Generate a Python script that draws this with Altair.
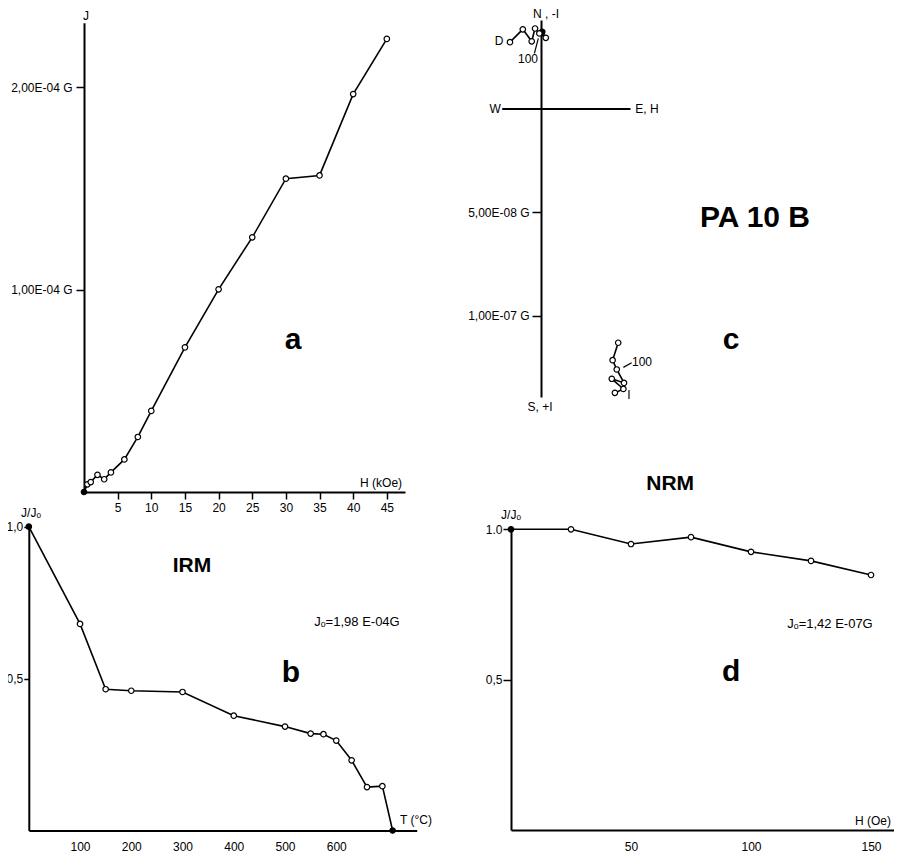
import altair as alt
import pandas as pd

# ---------------- data ----------------
# (a) IRM acquisition curve
a_H = [0, 0.5, 1, 2, 3, 4, 6, 8, 10, 15, 20, 25, 30, 35, 40, 45]          # kOe
a_J = [0, 0.038, 0.049, 0.085, 0.063, 0.097, 0.161, 0.272, 0.401,
       0.715, 1.002, 1.259, 1.549, 1.565, 1.967, 2.240]                    # x 1E-04 G
a_xticks = [5, 10, 15, 20, 25, 30, 35, 40, 45]
a_yticks = [1, 2]
a_ylabels = ["1,00E-04 G", "2,00E-04 G"]

# (b) thermal demagnetisation of IRM
b_T = [0, 100, 150, 200, 300, 400, 500, 550, 575, 600, 630, 660, 690, 710]
b_J = [1.0, 0.680, 0.465, 0.460, 0.456, 0.378, 0.342, 0.319, 0.317, 0.296,
       0.231, 0.143, 0.146, 0.0]
b_xticks = [100, 200, 300, 400, 500, 600]
b_yticks = [0.5, 1.0]
b_ylabels = ["0,5", "1,0"]

# (c) orthogonal (Zijderveld) projection, units of 1E-08 G
c_steps = [0, 25, 50, 75, 100, 125, 150]
c_hE = [0.06, 0.23, -0.08, -0.29, -0.45, -0.88, -1.50]
c_hN = [3.71, 3.42, 3.63, 3.87, 3.25, 3.83, 3.21]
c_vH = [3.57, 3.98, 3.42, 4.01, 3.66, 3.46, 3.73]
c_vZ = [13.73, 13.54, 13.05, 13.25, 12.60, 12.15, 11.31]
c_yticks = [5, 10]
c_ylabels = ["5,00E-08 G", "1,00E-07 G"]

# (d) AF demagnetisation of NRM
d_H = [0, 25, 50, 75, 100, 125, 150]
d_J = [1.0, 1.0, 0.951, 0.974, 0.925, 0.895, 0.848]
d_xticks = [50, 100, 150]
d_yticks = [0.5, 1.0]
d_ylabels = ["0,5", "1.0"]

# ---------------- layout / style ----------------
W, H = 886, 846
FONT = "Liberation Sans"
FS = 12


def lab_expr(vals, labels):
    e = "''"
    for v, l in reversed(list(zip(vals, labels))):
        e = f"datum.value == {v} ? '{l}' : ({e})"
    return e


def axis(orient, offset, values, labelExpr=None, tick=6, pad=3, domain=True,
         labels=True):
    kw = dict(orient=orient, offset=offset, values=values, title=None,
              grid=False, domainColor="black", domainWidth=2,
              tickColor="black", tickWidth=1.5, tickSize=tick,
              ticks=tick > 0, labelFont=FONT, labelFontSize=FS,
              labelColor="black", labelPadding=pad, labelFlush=False,
              labelOverlap=False, domain=domain, labels=labels)
    if labelExpr is not None:
        kw["labelExpr"] = labelExpr
    return alt.Axis(**kw)


def points_and_line(df, xs, ys, filled_col=None):
    base = alt.Chart(df).encode(x=xs, y=ys, order=alt.Order("i:Q"))
    pt = base.mark_point(shape="circle", size=30, strokeWidth=1.2,
                         opacity=1, color="black")
    if filled_col:
        pt = pt.encode(fill=alt.condition(f"datum.{filled_col}",
                                          alt.value("black"),
                                          alt.value("white")))
    else:
        pt = pt.encode(fill=alt.value("white"))
    return [base.mark_line(color="black", strokeWidth=1.6), pt]


def texts(specs, xs, ys):
    out = []
    for df_t, size, weight in specs:
        out.append(
            alt.Chart(df_t).mark_text(fontSize=size, fontWeight=weight,
                                      font=FONT, color="black",
                                      align="center", baseline="middle")
            .encode(x=xs, y=ys, text="t:N"))
    return out


def tdf(items):
    return pd.DataFrame({"t": [i[0] for i in items],
                         "x": [i[1] for i in items],
                         "y": [i[2] for i in items]})


def series(xv, yv, filled):
    return pd.DataFrame({"x": xv, "y": yv, "f": filled,
                         "i": list(range(len(xv)))})


# ---- panel a ----
dfa = series(a_H, a_J, [True] + [False] * (len(a_H) - 1))
xa = alt.X("x:Q", scale=alt.Scale(domain=[0, 47.7], range=[76, 397],
                                  nice=False, zero=False),
           axis=axis("bottom", -(H - 484), a_xticks, tick=7, pad=3))
ya = alt.Y("y:Q", scale=alt.Scale(domain=[0, 2.32], range=[484, 14.7],
                                  nice=False, zero=False),
           axis=axis("left", -76, a_yticks, lab_expr(a_yticks, a_ylabels),
                     tick=8, pad=4))
pa = alt.layer(*points_and_line(dfa, xa, ya, "f"), *texts([
    (tdf([("J", 0.3, 2.355), ("H (kOe)", 44.15, 0.044)]), FS, "normal"),
    (tdf([("a", 31.06, 0.751)]), 30, "bold"),
], xa, ya))

# ---- panel b ----
dfb = series(b_T, b_J, [True] + [False] * (len(b_T) - 2) + [True])
xb = alt.X("x:Q", scale=alt.Scale(domain=[0, 757], range=[20.8, 408.7],
                                  nice=False, zero=False),
           axis=axis("bottom", -(H - 822.5), b_xticks, tick=0, pad=11))
yb = alt.Y("y:Q", scale=alt.Scale(domain=[0, 1], range=[822.5, 518.7],
                                  nice=False, zero=False),
           axis=axis("left", -20.8, b_yticks, lab_expr(b_yticks, b_ylabels),
                     tick=5, pad=1))
pb = alt.layer(*points_and_line(dfb, xb, yb, "f"), *texts([
    (tdf([("J/Jₒ", 4.3, 1.045), ("T (°C)", 755.6, 0.035)]), FS, "normal"),
    (tdf([("Jₒ=1,98 E-04G", 640.4, 0.686)]), 13, "normal"),
    (tdf([("IRM", 318.5, 0.871)]), 21, "bold"),
    (tdf([("b", 511.7, 0.518)]), 30, "bold"),
], xb, yb))

# ---- panel d ----
dfd = series(d_H, d_J, [True] + [False] * (len(d_H) - 1))
xd = alt.X("x:Q", scale=alt.Scale(domain=[0, 160.7], range=[503, 888.7],
                                  nice=False, zero=False),
           axis=axis("bottom", -(H - 822), d_xticks, tick=0, pad=11))
yd = alt.Y("y:Q", scale=alt.Scale(domain=[0, 1], range=[822, 521.3],
                                  nice=False, zero=False),
           axis=axis("left", -503, d_yticks, lab_expr(d_yticks, d_ylabels),
                     tick=8, pad=1))
pd_ = alt.layer(*points_and_line(dfd, xd, yd, "f"), *texts([
    (tdf([("J/Jₒ", 0, 1.048), ("H (Oe)", 150.8, 0.03)]), FS, "normal"),
    (tdf([("Jₒ=1,42 E-07G", 132.9, 0.685)]), 13, "normal"),
    (tdf([("NRM", 66.3, 1.151)]), 21, "bold"),
    (tdf([("d", 91.7, 0.525)]), 30, "bold"),
], xd, yd))

# ---- panel c ----
dfc_h = series(c_hE, [-n for n in c_hN], [s == 0 for s in c_steps])
dfc_v = series(c_vH, c_vZ, [False] * len(c_steps))
xc = alt.X("x:Q", scale=alt.Scale(domain=[-1.9, 4.3], range=[493.7, 622],
                                  nice=False, zero=False),
           axis=axis("bottom", -(H - 100.5), [], tick=0, labels=False))
yc = alt.Y("y:Q", scale=alt.Scale(domain=[-4.28, 13.93], range=[12, 389],
                                  nice=False, zero=False),
           axis=axis("left", -533, c_yticks, lab_expr(c_yticks, c_ylabels),
                     tick=9, pad=3))
leaders = pd.DataFrame({"x": [-0.32, 3.98], "y": [-2.67, 12.50],
                        "x2": [-0.13, 4.38], "y2": [-3.39, 12.28]})
lead = alt.Chart(leaders).mark_rule(color="black", strokeWidth=1.2).encode(
    x=xc, y=yc, x2="x2:Q", y2="y2:Q")
pc = alt.layer(
    lead,
    *points_and_line(dfc_h, xc, yc, "f"),
    *points_and_line(dfc_v, xc, yc),
    *texts([
        (tdf([("N , -I", 0.24, -4.55), ("W", -2.22, 0), ("E, H", 5.12, 0),
              ("S, +I", -0.05, 14.42), ("D", -2.03, -3.26),
              ("100", -0.63, -2.39), ("100", 4.88, 12.25),
              ("I", 4.25, 13.81)]), FS, "normal"),
        (tdf([("PA 10 B", 10.34, 5.29)]), 30, "bold"),
        (tdf([("c", 9.18, 11.18)]), 30, "bold"),
    ], xc, yc))

chart = (
    alt.layer(pa, pb, pc, pd_)
    .resolve_scale(x="independent", y="independent")
    .properties(width=W, height=H, padding=0,
                autosize=alt.AutoSizeParams(type="none"),
                view=alt.ViewBackground(strokeWidth=0, stroke="white"))
    .configure_view(strokeWidth=0, stroke="white")
    .configure(background="white")
)

chart.save("out.html", embed_options={"renderer": "svg", "actions": False})
